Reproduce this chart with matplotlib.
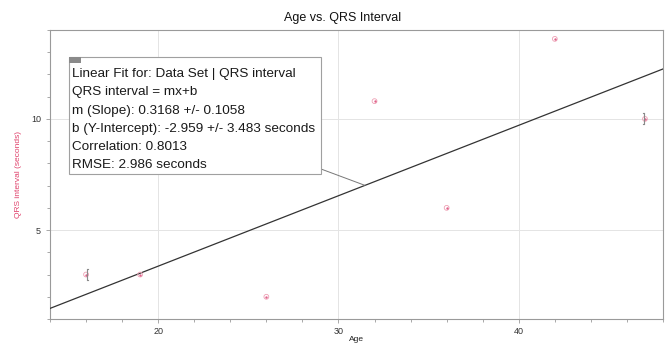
import numpy as np
import matplotlib
matplotlib.use("Agg")
import matplotlib.pyplot as plt
from matplotlib.ticker import MultipleLocator

# data
age = [16, 19, 26, 32, 36, 42, 47]
qrs = [3.0, 3.0, 2.0, 10.8, 6.0, 13.6, 10.0]
bracket_left = [0]     # points showing a "[" error cap
bracket_right = [6]    # points showing a "]" error cap

slope = 0.3168
intercept = -2.959
fit_lines = [
    "Linear Fit for: Data Set | QRS interval",
    "QRS interval = mx+b",
    "m (Slope): 0.3168 +/- 0.1058",
    "b (Y-Intercept): -2.959 +/- 3.483 seconds",
    "Correlation: 0.8013",
    "RMSE: 2.986 seconds",
]

plt.rcParams['font.family'] = ['Liberation Sans', 'DejaVu Sans']

fig = plt.figure(figsize=(6.65, 3.44), dpi=100)
ax = fig.add_axes([50 / 665, 25 / 344, 613 / 665, 289 / 344])

xlim = (14, 48)
ax.set_xlim(*xlim)
ax.set_ylim(1, 14)

# fit line across the whole x range
xf = np.array(xlim, dtype=float)
ax.plot(xf, slope * xf + intercept, color='#333333', lw=0.9, zorder=3)

# data points
ax.scatter(age, qrs, s=12, facecolors='none', edgecolors='#eea0b4',
           linewidths=0.6, zorder=4)
ax.scatter(age, qrs, s=0.5, color='#e0608a', zorder=4)
for i in bracket_left:
    ax.plot(age[i] + 0.1, qrs[i], marker='$[$', ms=8, mew=0.1,
            color='#8a8a8a', zorder=5)
for i in bracket_right:
    ax.plot(age[i] - 0.05, qrs[i], marker='$]$', ms=8, mew=0.1,
            color='#8a8a8a', zorder=5)

# axes styling
ax.xaxis.set_major_locator(MultipleLocator(10))
ax.xaxis.set_minor_locator(MultipleLocator(2))
ax.yaxis.set_major_locator(MultipleLocator(5))
ax.yaxis.set_minor_locator(MultipleLocator(1))
ax.grid(True, which='major', color='#e4e4e4', lw=0.7)
ax.set_axisbelow(True)
for s in ax.spines.values():
    s.set_color('#9a9a9a')
    s.set_linewidth(0.8)
ax.tick_params(which='both', colors='#9a9a9a', labelcolor='#333333',
               labelsize=6.5, length=3, width=0.6)
ax.tick_params(which='minor', length=2)
ax.tick_params(axis='x', pad=2.5)

fig.text(343 / 665, 1 - 18 / 344, 'Age vs. QRS Interval', fontsize=9,
         color='#111111', ha='center', va='center')
ax.set_xlabel('Age', fontsize=6, color='#222222', labelpad=0.5)
ax.set_ylabel('QRS interval (seconds)', fontsize=6, color='#e0406a')
ax.yaxis.set_label_coords(-28 / 613, 0.5)

# fit annotation box with leader line to the fit
x_lead = 31.47
box_x, box_y = 69 / 665, 1 - 57 / 344
box_w, box_h = 252 / 665, 117 / 344
fig.add_artist(plt.Rectangle((box_x, box_y - box_h), box_w, box_h,
                             transform=fig.transFigure, facecolor='white',
                             edgecolor='#a0a0a0', lw=0.8, zorder=6))
fig.add_artist(plt.Rectangle((box_x, box_y - 6 / 344), 12 / 665, 6 / 344,
                             transform=fig.transFigure, facecolor='#8a8a8a',
                             edgecolor='none', zorder=7))
ax.annotate('', xy=(x_lead, slope * x_lead + intercept), xycoords='data',
            xytext=(box_x + box_w, box_y - 112 / 344),
            textcoords='figure fraction',
            arrowprops=dict(arrowstyle='-', color='#777777', lw=0.7,
                            shrinkA=0, shrinkB=0), zorder=5)
for k, line in enumerate(fit_lines):
    fig.text(box_x + 3 / 665, box_y - (17 + 18.3 * k) / 344, line,
             fontsize=9.7, color='#1a1a1a', va='center', zorder=8)

fig.savefig('out.png', dpi=100)
